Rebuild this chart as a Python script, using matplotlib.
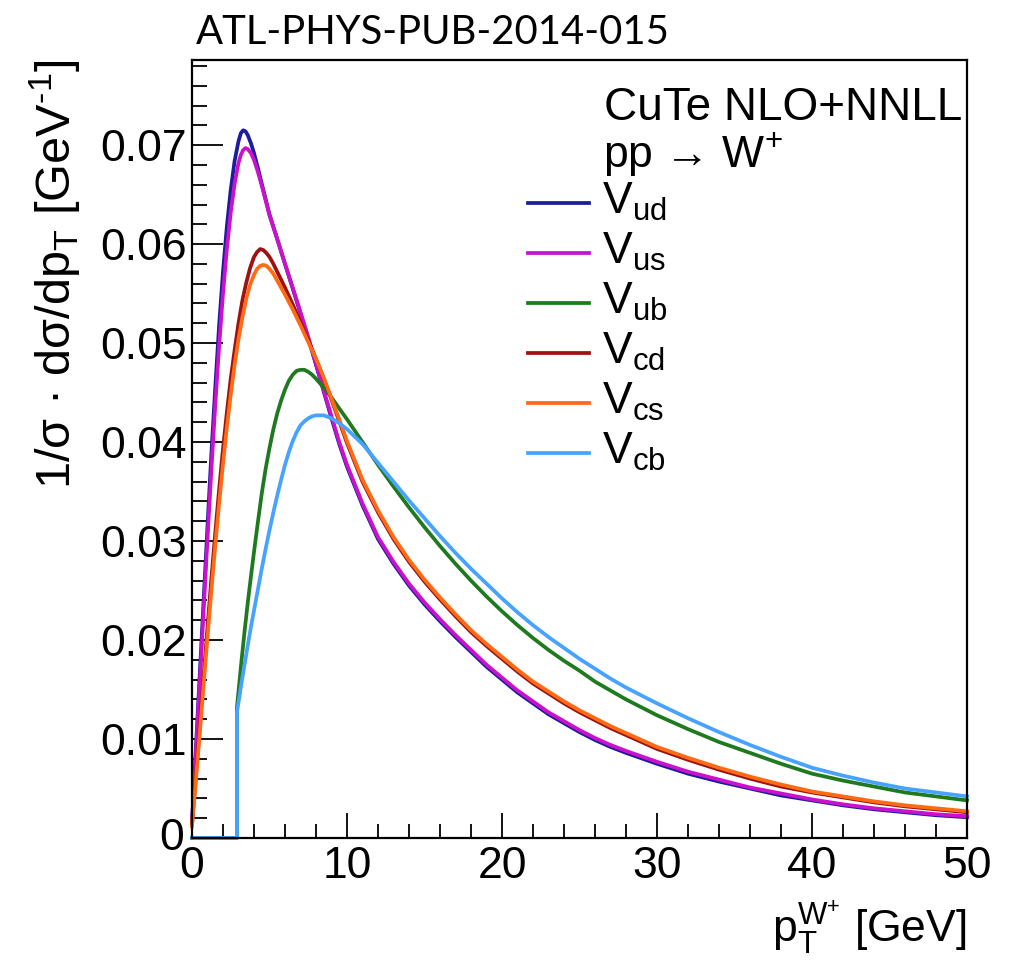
import numpy as np
import matplotlib
matplotlib.use("Agg")
import matplotlib.pyplot as plt
import matplotlib.transforms as mtransforms
from matplotlib.ticker import MultipleLocator

plt.rcParams['font.family'] = ['Liberation Sans', 'DejaVu Sans']
plt.rcParams['mathtext.fontset'] = 'custom'
plt.rcParams['mathtext.rm'] = 'Liberation Sans'
plt.rcParams['mathtext.it'] = 'Liberation Sans:italic'
plt.rcParams['mathtext.bf'] = 'Liberation Sans:bold'

# ---- data ----
x_u = [0, 0.25, 0.5, 0.75, 1, 1.25, 1.5, 1.75, 2, 2.25, 2.5, 2.75, 3, 3.15, 3.3, 3.45, 3.6, 3.8,
       4, 4.25, 4.5, 5, 5.5, 6, 6.5, 7, 7.5, 8, 8.5, 9, 9.5, 10, 11, 12, 13, 14, 15, 16, 17, 18,
       19, 20, 21, 22, 23, 24, 25, 26, 27, 28, 30, 32, 34, 36, 38, 40, 42, 44, 46, 48, 50]
v_ud = [0.0016, 0.0090, 0.0165, 0.0240, 0.0315, 0.0388, 0.0455, 0.0518, 0.0572, 0.0618, 0.0655,
        0.0684, 0.0704, 0.0712, 0.0715, 0.0714, 0.0710, 0.0702, 0.0692, 0.0677, 0.0661, 0.0630,
        0.0605, 0.0580, 0.0555, 0.0530, 0.0505, 0.0478, 0.0451, 0.0424, 0.0398, 0.0375, 0.0336,
        0.0302, 0.0277, 0.0255, 0.0236, 0.0219, 0.0203, 0.0188, 0.0173, 0.0160, 0.0147, 0.0136,
        0.0125, 0.0116, 0.0107, 0.0099, 0.0092, 0.0086, 0.0075, 0.0065, 0.0057, 0.0050, 0.0043,
        0.0038, 0.0033, 0.0029, 0.0026, 0.0023, 0.0021]
v_us = [0.0015, 0.0085, 0.0157, 0.0230, 0.0302, 0.0372, 0.0437, 0.0497, 0.0550, 0.0595, 0.0632,
        0.0661, 0.0682, 0.0690, 0.0695, 0.0697, 0.0696, 0.0692, 0.0685, 0.0673, 0.0659, 0.0629,
        0.0605, 0.0580, 0.0556, 0.0531, 0.0506, 0.0479, 0.0452, 0.0426, 0.0400, 0.0377, 0.0338,
        0.0304, 0.0279, 0.0257, 0.0238, 0.0221, 0.0205, 0.0190, 0.0175, 0.0162, 0.0149, 0.0138,
        0.0127, 0.0118, 0.0109, 0.0101, 0.0094, 0.0088, 0.0077, 0.0067, 0.0059, 0.0051, 0.0045,
        0.0039, 0.0034, 0.0030, 0.0027, 0.0024, 0.0022]

x_c = [0, 0.25, 0.5, 0.75, 1, 1.25, 1.5, 1.75, 2, 2.25, 2.5, 2.75, 3, 3.25, 3.5, 3.75, 4, 4.2,
       4.4, 4.6, 4.8, 5, 5.25, 5.5, 6, 6.5, 7, 7.5, 8, 8.5, 9, 9.5, 10, 11, 12, 13, 14, 15, 16,
       17, 18, 19, 20, 21, 22, 23, 24, 25, 26, 27, 28, 30, 32, 34, 36, 38, 40, 42, 44, 46, 48, 50]
v_cd = [0.0014, 0.0062, 0.0112, 0.0163, 0.0213, 0.0262, 0.0308, 0.0352, 0.0393, 0.0430, 0.0464,
        0.0493, 0.0520, 0.0543, 0.0561, 0.0576, 0.0587, 0.0592, 0.0595, 0.0594, 0.0591, 0.0587,
        0.0580, 0.0572, 0.0556, 0.0539, 0.0521, 0.0503, 0.0484, 0.0464, 0.0443, 0.0421, 0.0399,
        0.0360, 0.0329, 0.0302, 0.0279, 0.0259, 0.0241, 0.0224, 0.0208, 0.0194, 0.0181, 0.0168,
        0.0156, 0.0146, 0.0136, 0.0127, 0.0119, 0.0111, 0.0104, 0.0090, 0.0079, 0.0069, 0.0060,
        0.0052, 0.0046, 0.0041, 0.0036, 0.0032, 0.0029, 0.0026]
v_cs = [0.0012, 0.0058, 0.0106, 0.0155, 0.0203, 0.0250, 0.0295, 0.0338, 0.0378, 0.0415, 0.0448,
        0.0478, 0.0504, 0.0526, 0.0545, 0.0559, 0.0569, 0.0575, 0.0578, 0.0579, 0.0578, 0.0575,
        0.0570, 0.0563, 0.0549, 0.0534, 0.0518, 0.0501, 0.0484, 0.0465, 0.0444, 0.0423, 0.0401,
        0.0362, 0.0331, 0.0304, 0.0281, 0.0261, 0.0243, 0.0226, 0.0210, 0.0196, 0.0183, 0.0170,
        0.0158, 0.0148, 0.0138, 0.0129, 0.0121, 0.0113, 0.0106, 0.0092, 0.0081, 0.0071, 0.0062,
        0.0054, 0.0047, 0.0042, 0.0037, 0.0033, 0.0030, 0.0027]

x_b = [0, 2.9, 2.9, 3.0, 3.2, 3.4, 3.6, 3.8, 4.0, 4.25, 4.5, 4.75, 5.0, 5.25, 5.5, 5.75, 6.0,
       6.25, 6.5, 6.75, 7.0, 7.25, 7.5, 7.75, 8.0, 8.5, 9.0, 9.5, 10, 11, 12, 13, 14, 15, 16, 17,
       18, 19, 20, 21, 22, 23, 24, 25, 26, 27, 28, 30, 32, 34, 36, 38, 40, 42, 44, 46, 48, 50]
v_ub = [0.0, 0.0, 0.0132, 0.0148, 0.0180, 0.0210, 0.0238, 0.0264, 0.0289, 0.0319, 0.0348, 0.0373,
        0.0394, 0.0413, 0.0429, 0.0442, 0.0453, 0.0462, 0.0468, 0.0472, 0.0473, 0.0473, 0.0471,
        0.0468, 0.0464, 0.0455, 0.0445, 0.0434, 0.0423, 0.0400, 0.0377, 0.0355, 0.0334, 0.0314,
        0.0295, 0.0277, 0.0260, 0.0244, 0.0229, 0.0215, 0.0202, 0.0190, 0.0179, 0.0169, 0.0158,
        0.0149, 0.0140, 0.0124, 0.0110, 0.0097, 0.0086, 0.0075, 0.0065, 0.0058, 0.0052, 0.0046,
        0.0042, 0.0038]
v_cb = [0.0, 0.0, 0.0127, 0.0137, 0.0157, 0.0176, 0.0195, 0.0213, 0.0230, 0.0251, 0.0272, 0.0292,
        0.0311, 0.0329, 0.0346, 0.0362, 0.0377, 0.0390, 0.0401, 0.0410, 0.0417, 0.0421, 0.0424,
        0.0426, 0.0427, 0.0427, 0.0424, 0.0419, 0.0413, 0.0398, 0.0379, 0.0360, 0.0341, 0.0323,
        0.0305, 0.0288, 0.0272, 0.0257, 0.0242, 0.0228, 0.0215, 0.0203, 0.0192, 0.0181, 0.0171,
        0.0161, 0.0152, 0.0136, 0.0121, 0.0107, 0.0094, 0.0082, 0.0071, 0.0063, 0.0056, 0.0050,
        0.0046, 0.0042]

labels = [r"V$_{\mathrm{ud}}$", r"V$_{\mathrm{us}}$", r"V$_{\mathrm{ub}}$",
          r"V$_{\mathrm{cd}}$", r"V$_{\mathrm{cs}}$", r"V$_{\mathrm{cb}}$"]
colors = ["#1c1c9c", "#cc11cc", "#1f7a1f", "#9c1212", "#ff6a14", "#47a3ff"]

FW, FH = 1013, 966
L, R, T, B = 192, 967, 60, 838
fig = plt.figure(figsize=(FW / 100, FH / 100), dpi=100)
ax = fig.add_axes([L / FW, (FH - B) / FH, (R - L) / FW, (B - T) / FH])

series = [(x_u, v_ud), (x_u, v_us), (x_b, v_ub), (x_c, v_cd), (x_c, v_cs), (x_b, v_cb)]
LW = 2.7
for (xs, ys), lab, c in zip(series, labels, colors):
    ax.plot(xs, ys, color=c, lw=LW, label=lab, clip_on=False, solid_joinstyle='round')

ax.set_xlim(0, 50)
ax.set_ylim(0, 0.0786)
ax.xaxis.set_major_locator(MultipleLocator(10))
ax.xaxis.set_minor_locator(MultipleLocator(2))
ax.yaxis.set_minor_locator(MultipleLocator(0.002))
ax.set_yticks([0, 0.01, 0.02, 0.03, 0.04, 0.05, 0.06, 0.07])
ax.set_yticklabels(["0", "0.01", "0.02", "0.03", "0.04", "0.05", "0.06", "0.07"])
ax.tick_params(which='both', direction='in', top=False, right=False, labelsize=32, width=1.3)
ax.tick_params(axis='y', which='major', length=22, pad=4)
ax.tick_params(axis='y', which='minor', length=11)
ax.tick_params(axis='x', which='major', length=18, pad=6)
ax.tick_params(axis='x', which='minor', length=10)
for s in ax.spines.values():
    s.set_linewidth(1.6)

# nudge the two "0" labels apart a little, as in the reference
fig.canvas.draw()
xl0 = ax.get_xticklabels()[0]
xl0.set_transform(xl0.get_transform() + mtransforms.ScaledTranslation(5 / 100, -2 / 100, fig.dpi_scale_trans))
yl0 = ax.get_yticklabels()[0]
yl0.set_transform(yl0.get_transform() + mtransforms.ScaledTranslation(-2 / 100, 4 / 100, fig.dpi_scale_trans))

ax.set_ylabel("1/σ · dσ/dp$_{\\mathrm{T}}$ [GeV$^{\\text{-1}}$]",
              fontsize=35, loc='top', labelpad=12)
ax.set_xlabel(r"p$_{\mathrm{T}}^{\mathrm{W}^{+}}$ [GeV]", fontsize=32, loc='right', labelpad=8)


def ax_xy(px, py):
    return (px - L) / (R - L), (B - py) / (B - T)


ax.text(*ax_xy(962, 120), "CuTe NLO+NNLL", transform=ax.transAxes, fontsize=33,
        ha='right', va='baseline')
ax.text(*ax_xy(603, 167), "pp → W$^{+}$", transform=ax.transAxes, fontsize=32,
        ha='left', va='baseline')

# legend entries
for i, (lab, c) in enumerate(zip(labels, colors)):
    ly = 203 + 50 * i
    x0, y0 = ax_xy(528, ly)
    x1, _ = ax_xy(589, ly)
    ax.plot([x0, x1], [y0, y0], color=c, lw=LW, transform=ax.transAxes, clip_on=False)
    ax.text(*ax_xy(602, ly + 11), lab, transform=ax.transAxes, fontsize=32,
            ha='left', va='baseline')

fig.text(196 / FW, 1 - 33 / FH, "ATL-PHYS-PUB-2014-015", fontsize=28.8,
         family=['Lato', 'DejaVu Sans'], ha='left', va='center')

fig.savefig("out.png", dpi=100)
